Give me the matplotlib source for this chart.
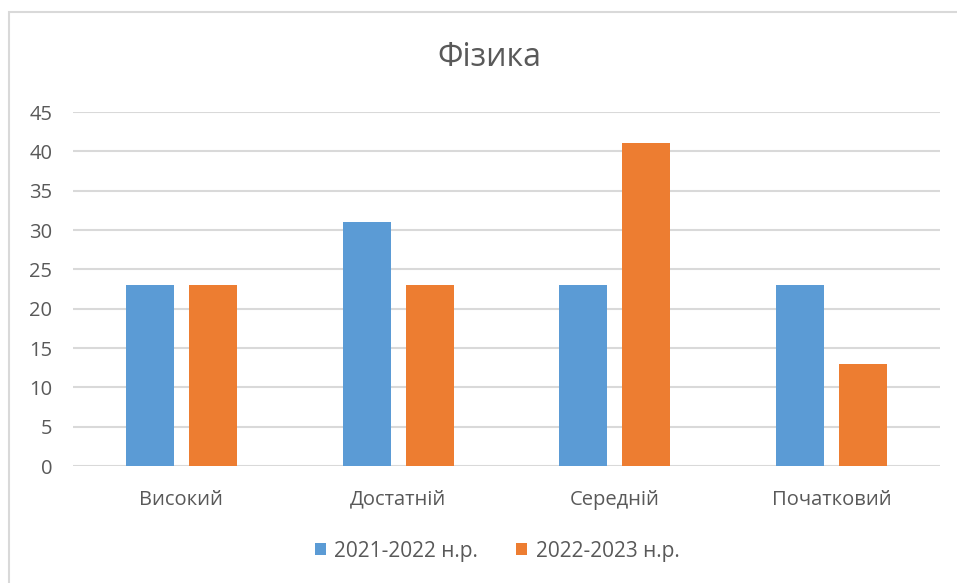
import matplotlib.pyplot as plt
from matplotlib.patches import Rectangle
import numpy as np

# Рівні навчальних досягнень і кількість учнів за роками
levels = ["Високий", "Достатній", "Середній", "Початковий"]
series_names = ["2021-2022 н.р.", "2022-2023 н.р."]
values_2021 = [23, 31, 23, 23]
values_2022 = [23, 23, 41, 13]
y_ticks = [0, 5, 10, 15, 20, 25, 30, 35, 40, 45]

blue = "#5B9BD5"
orange = "#ED7D31"
text_gray = "#595959"
grid_gray = "#D9D9D9"

plt.rcParams["font.family"] = ["Open Sans", "DejaVu Sans"]

fig = plt.figure(figsize=(9.57, 5.83), dpi=100)
fig.patch.set_facecolor("white")

# рамка навколо діаграми
fig.add_artist(Rectangle((9 / 957, -0.05), 1.2, (583 - 12) / 583 + 0.05,
                         transform=fig.transFigure, fill=False,
                         edgecolor="#D9D9D9", linewidth=1.5))

ax = fig.add_axes([73 / 957, (583 - 466) / 583, 867 / 957, 354 / 583])

x = np.arange(len(levels))
width = 0.221
offset = 0.145
ax.bar(x - offset, values_2021, width, color=blue, label=series_names[0], zorder=3)
ax.bar(x + offset, values_2022, width, color=orange, label=series_names[1], zorder=3)

ax.set_xlim(-0.5, len(levels) - 0.5)
ax.set_ylim(0, 45)
ax.set_yticks(y_ticks)
ax.set_xticks(x)
ax.set_xticklabels(levels)
ax.grid(axis="y", color=grid_gray, linewidth=1.5, zorder=0)
for s in ax.spines.values():
    s.set_visible(False)
ax.tick_params(axis="both", length=0, colors=text_gray, labelsize=14.5)
ax.tick_params(axis="x", pad=17)
ax.tick_params(axis="y", pad=15)

fig.text(489 / 957, 1 - 58 / 583, "Фізика", ha="center", va="center",
         fontsize=23, color=text_gray)

fig.legend(loc="center", bbox_to_anchor=(497 / 957, 1 - 551 / 583), ncol=2,
           frameon=False, fontsize=15, labelcolor=text_gray,
           handlelength=0.55, handleheight=0.55, handletextpad=0.4,
           columnspacing=1.8)

fig.savefig("out.png", dpi=100)
